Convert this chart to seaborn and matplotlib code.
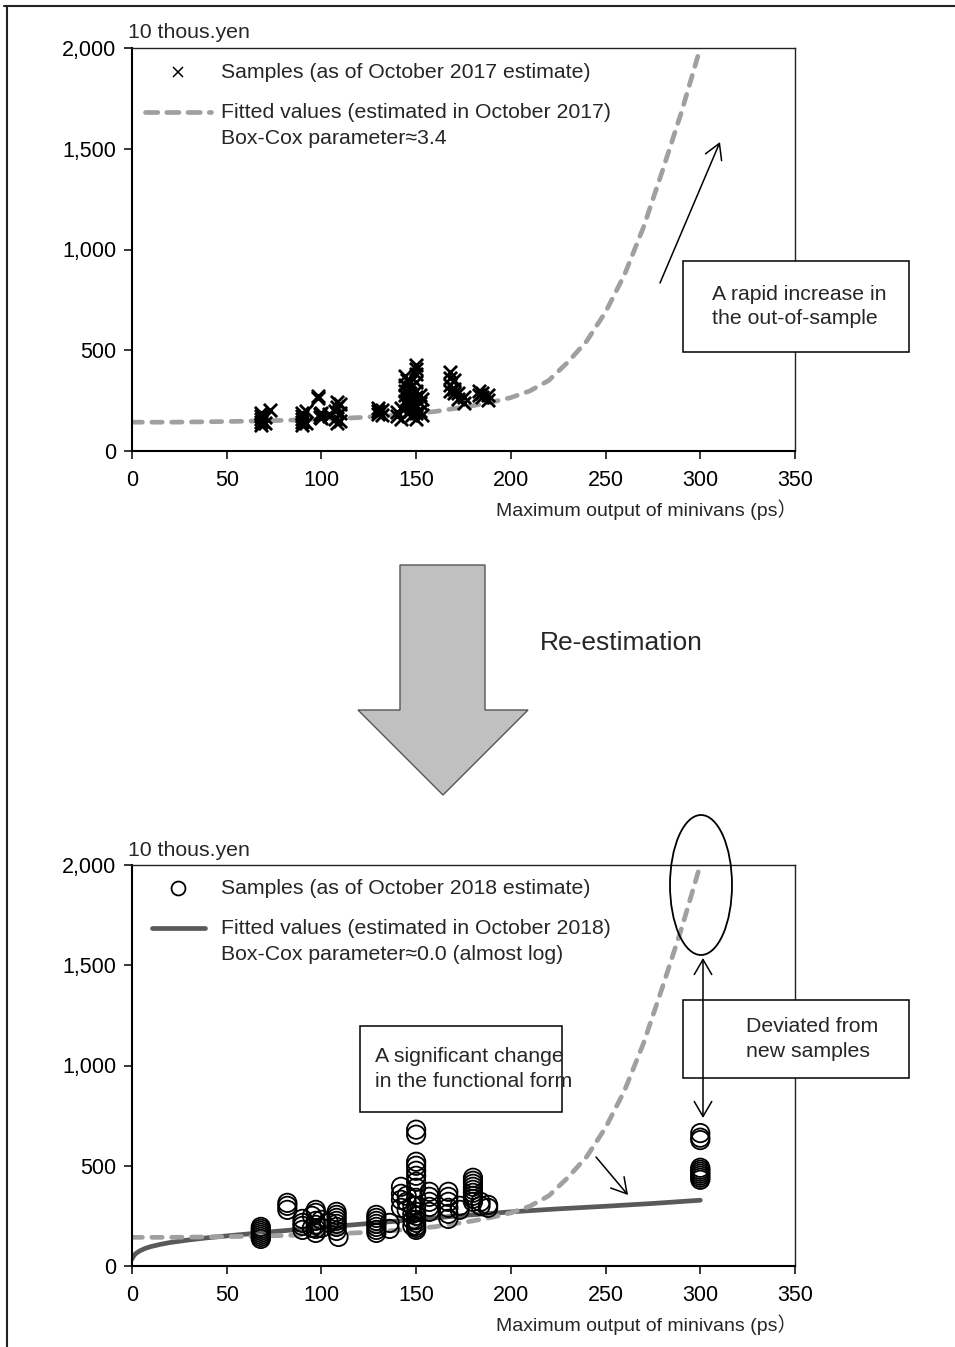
import matplotlib
matplotlib.use("Agg")
import matplotlib.pyplot as plt
import seaborn as sns
from matplotlib.lines import Line2D
from matplotlib.patches import Rectangle, Ellipse, Polygon, FancyArrowPatch

# ---- axis ticks -------------------------------------------------------------
x_ticks = [0, 50, 100, 150, 200, 250, 300, 350]
x_tick_labels = ["0", "50", "100", "150", "200", "250", "300", "350"]
y_ticks = [0, 500, 1000, 1500, 2000]
y_tick_labels = ["0", "500", "1,000", "1,500", "2,000"]

# ---- samples as of October 2017 (ps, 10 thous. yen) --------------------------
hp_2017 = [68, 68, 68, 68, 68, 70, 70, 73,
           90, 90, 90, 90, 90, 92, 92,
           98, 98, 99, 99, 100, 100,
           104, 104, 107, 107, 108, 108, 108, 110, 110, 110,
           130, 130, 130, 132, 132,
           140, 140, 142, 142, 144, 144, 144, 144, 144, 145, 145, 145, 145,
           147, 147, 147, 147, 147, 148, 148, 148,
           150, 150, 150, 150, 150, 150, 150, 150, 150,
           152, 152, 152, 153, 153,
           168, 168, 168, 168, 170, 170, 170, 172, 172, 175, 175,
           183, 183, 185, 185, 188, 188]
price_2017 = [130, 145, 160, 175, 190, 140, 170, 205,
              130, 145, 160, 175, 190, 140, 200,
              265, 275, 170, 185, 165, 190,
              175, 185, 160, 200, 140, 220, 245, 150, 190, 235,
              185, 200, 215, 180, 205,
              175, 195, 160, 215, 250, 280, 300, 330, 370, 190, 230, 260, 350,
              200, 240, 280, 320, 340, 180, 220, 260,
              160, 190, 230, 270, 300, 340, 380, 405, 425,
              200, 240, 280, 180, 260,
              300, 330, 360, 390, 290, 310, 350, 260, 290, 240, 270,
              280, 300, 270, 290, 255, 280]

# ---- samples as of October 2018 ---------------------------------------------
hp_2018 = [68, 68, 68, 68, 68, 68, 68,
           82, 82, 82,
           90, 90, 90, 90,
           95, 95, 97, 97, 97, 97, 97, 97,
           100, 100, 104,
           108, 108, 108, 108, 108, 108, 108, 109,
           129, 129, 129, 129, 129, 129, 129,
           136, 136,
           142, 142, 142, 142, 145, 145, 145,
           148, 148, 148, 148,
           150, 150, 150, 150, 150, 150, 150, 150, 150, 150, 150, 150, 150, 150, 150, 150, 150,
           157, 157, 157, 157, 157,
           167, 167, 167, 167, 167, 167,
           173, 173,
           180, 180, 180, 180, 180, 180, 180, 180, 180,
           184, 184, 188, 188,
           300, 300, 300, 300, 300, 300, 300, 300, 300, 300]
price_2018 = [135, 145, 155, 165, 175, 185, 195,
              280, 300, 315,
              180, 200, 215, 235,
              190, 250, 165, 185, 205, 225, 265, 280,
              190, 230, 215,
              175, 195, 210, 225, 240, 255, 270, 145,
              165, 180, 195, 210, 225, 240, 255,
              185, 215,
              290, 330, 360, 395, 280, 320, 350,
              200, 230, 260, 300,
              180, 190, 200, 215, 230, 250, 270, 300, 340, 390, 420, 450, 475, 500, 520, 655, 680,
              270, 295, 320, 345, 370,
              235, 260, 290, 320, 345, 370,
              280, 300,
              320, 335, 350, 365, 380, 395, 410, 425, 440,
              300, 320, 290, 305,
              430, 440, 450, 460, 470, 480, 490, 628, 640, 663]

# ---- fitted values ------------------------------------------------------------
fit_2017_hp = [0, 20, 40, 60, 80, 100, 120, 140, 160, 180, 190, 200, 210,
               220, 230, 240, 250, 260, 270, 280, 290, 300]
fit_2017_price = [143, 143, 145, 148, 152, 158, 166, 178, 196, 225, 243, 265, 298,
                  350, 440, 545, 690, 875, 1110, 1390, 1680, 2000]

fit_2018_hp = [0, 1, 2, 4, 7, 10, 15, 20, 30, 40, 50, 75, 100, 125, 150,
               175, 200, 225, 250, 275, 300]
fit_2018_price = [35, 52, 62, 75, 88, 97, 108, 117, 130, 141, 150, 172, 192, 212, 232,
                  252, 270, 285, 298, 312, 328]

# ---- text ---------------------------------------------------------------------
unit_label = "10 thous.yen"
x_label = "Maximum output of minivans (ps\uff09"
legend_2017 = ["Samples (as of October 2017 estimate)",
               "Fitted values (estimated in October 2017)",
               "Box-Cox parameter\u22483.4"]
legend_2018 = ["Samples (as of October 2018 estimate)",
               "Fitted values (estimated in October 2018)",
               "Box-Cox parameter\u22480.0 (almost log)"]

# ---- styling ------------------------------------------------------------------
sns.set_theme(style="ticks")
plt.rcParams["font.family"] = ["Liberation Sans", "Noto Sans CJK JP", "DejaVu Sans"]
FS = 15.3
plt.rcParams["font.size"] = FS

DASH_COLOR = "#a0a0a0"
SOLID_COLOR = "#5a5a5a"
LW_CURVE = 3.4
DASH_STYLE = (0, (2.2, 2.0))

W, H = 955, 1347


def fx(px):
    return px / W


def fy(py):
    return 1 - py / H


fig = plt.figure(figsize=(W / 100, H / 100), dpi=100)
fig.patch.set_facecolor("white")

ax_top = fig.add_axes([fx(132), fy(451), fx(795) - fx(132), fy(48) - fy(451)])
ax_bot = fig.add_axes([fx(132), fy(1266), fx(795) - fx(132), fy(865) - fy(1266)])


def style_axes(ax):
    ax.set_xlim(0, 350)
    ax.set_ylim(0, 2000)
    ax.set_xticks(x_ticks)
    ax.set_xticklabels(x_tick_labels)
    ax.set_yticks(y_ticks)
    ax.set_yticklabels(y_tick_labels)
    ax.tick_params(direction="out", length=5.5, width=1.1, colors="black",
                   labelsize=15.5)
    ax.tick_params(axis="x", pad=8.5)
    ax.tick_params(axis="y", pad=6)
    for side in ["left", "bottom"]:
        ax.spines[side].set_linewidth(1.5)
        ax.spines[side].set_color("black")
    for side in ["top", "right"]:
        ax.spines[side].set_visible(True)
        ax.spines[side].set_linewidth(1.0)
        ax.spines[side].set_color("#222222")
    ax.set_ylabel("")
    ax.set_xlabel(x_label, fontsize=14, ha="right", va="center")
    ax.xaxis.set_label_coords(1.003, -(59 / 403))
    ax.text(-0.006, 1 + 15 / 403, unit_label, transform=ax.transAxes,
            ha="left", va="center", fontsize=FS)


# ---- top panel: October 2017 -------------------------------------------------
sns.lineplot(x=fit_2017_hp, y=fit_2017_price, ax=ax_top, color=DASH_COLOR,
             linewidth=LW_CURVE, linestyle=DASH_STYLE, dash_capstyle="round",
             estimator=None, sort=False, zorder=2)
sns.scatterplot(x=hp_2017, y=price_2017, ax=ax_top, marker="x", color="black",
                s=90, linewidth=2.0, zorder=3)
style_axes(ax_top)

# ---- bottom panel: October 2018 ---------------------------------------------
sns.lineplot(x=fit_2018_hp, y=fit_2018_price, ax=ax_bot, color=SOLID_COLOR,
             linewidth=LW_CURVE, solid_capstyle="round",
             estimator=None, sort=False, zorder=2)
sns.lineplot(x=fit_2017_hp, y=fit_2017_price, ax=ax_bot, color=DASH_COLOR,
             linewidth=LW_CURVE, linestyle=DASH_STYLE, dash_capstyle="round",
             estimator=None, sort=False, zorder=2)
sns.scatterplot(x=hp_2018, y=price_2018, ax=ax_bot, marker="o", s=175,
                color="black", linewidth=1.3, zorder=3)
for coll in ax_bot.collections:
    coll.set_facecolor("none")
    coll.set_edgecolor("black")
style_axes(ax_bot)

# ---- legends ------------------------------------------------------------------
fig.add_artist(Line2D([fx(178)], [fy(72)], marker="x", markersize=7.5,
                      markeredgewidth=1.1, color="black", linestyle="none"))
fig.add_artist(Line2D([fx(145), fx(211)], [fy(112), fy(112)], color=DASH_COLOR,
                      linewidth=LW_CURVE, linestyle=(0, (2.6, 1.9)),
                      dash_capstyle="round"))
for txt, yy in zip(legend_2017, [72, 112, 138]):
    fig.text(fx(221), fy(yy), txt, ha="left", va="center", fontsize=FS)

fig.add_artist(Line2D([fx(178)], [fy(888)], marker="o", markersize=10,
                      markeredgewidth=1.3, markerfacecolor="none",
                      color="black", linestyle="none"))
fig.add_artist(Line2D([fx(152), fx(205)], [fy(928), fy(928)], color=SOLID_COLOR,
                      linewidth=LW_CURVE, solid_capstyle="round"))
for txt, yy in zip(legend_2018, [888, 928, 955]):
    fig.text(fx(221), fy(yy), txt, ha="left", va="center", fontsize=FS)


# ---- annotation boxes ----------------------------------------------------------
def note_box(x0, y0, x1, y1, tx, text):
    fig.add_artist(Rectangle((fx(x0), fy(y1)), fx(x1) - fx(x0), fy(y0) - fy(y1),
                             transform=fig.transFigure, facecolor="white",
                             edgecolor="black", linewidth=1.1, zorder=4))
    fig.text(fx(tx), fy((y0 + y1) / 2), text, ha="left", va="center",
             fontsize=FS, linespacing=1.36, zorder=5)


def arrow(p0, p1, style="->"):
    fig.add_artist(FancyArrowPatch((fx(p0[0]), fy(p0[1])), (fx(p1[0]), fy(p1[1])),
                                   transform=fig.transFigure,
                                   arrowstyle=f"{style},head_length=0.6,head_width=0.35",
                                   mutation_scale=18, linewidth=1.1,
                                   color="black", shrinkA=0, shrinkB=0, zorder=4))


note_box(683, 261, 909, 352, 712, "A rapid increase in\nthe out-of-sample")
arrow((660, 283), (720, 142))

note_box(360, 1026, 562, 1112, 375, "A significant change\nin the functional form")
arrow((596, 1157), (628, 1195))

note_box(683, 1000, 909, 1078, 746, "Deviated from\nnew samples")
arrow((703, 958), (703, 1118), style="<->")
fig.add_artist(Ellipse((fx(701), fy(885)), 62 / W, 140 / H,
                       transform=fig.transFigure, fill=False,
                       edgecolor="black", linewidth=1.3, zorder=4))

# ---- re-estimation arrow ---------------------------------------------------------
shape = [(400, 565), (485, 565), (485, 710), (528, 710), (443, 795),
         (358, 710), (400, 710)]
fig.add_artist(Polygon([(fx(a), fy(b)) for a, b in shape], closed=True,
                       transform=fig.transFigure, facecolor="#c0c0c0",
                       edgecolor="#555555", linewidth=1.0, zorder=1))
fig.text(fx(540), fy(643), "Re-estimation", ha="left", va="center", fontsize=19)

# ---- outer frame (top and left edges) ------------------------------------------
fig.add_artist(Line2D([fx(4), fx(955)], [fy(6), fy(6)], color="#222222",
                      linewidth=1.5))
fig.add_artist(Line2D([fx(7), fx(7)], [fy(6), fy(1347)], color="#222222",
                      linewidth=1.5))

fig.savefig("out.png", dpi=100, facecolor="white")
